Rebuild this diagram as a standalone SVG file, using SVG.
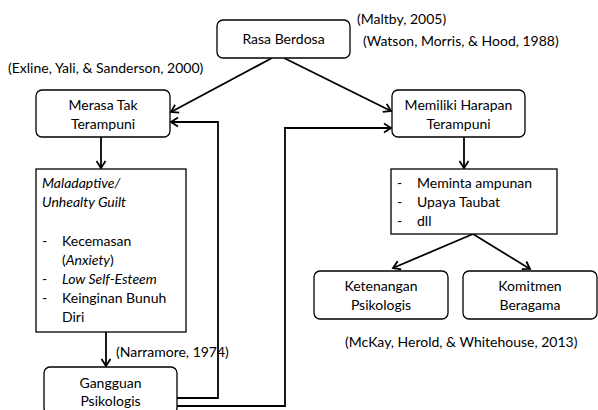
<svg xmlns="http://www.w3.org/2000/svg" width="598" height="410" viewBox="0 0 598 410">
<defs>
<marker id="ah" markerWidth="12" markerHeight="12" refX="9" refY="6" orient="auto" markerUnits="userSpaceOnUse">
<path d="M2,1.5 L9,6 L2,10.5" fill="none" stroke="#000" stroke-width="1.8"/>
</marker>
</defs>
<style>
.box{fill:#fff;stroke:#000;stroke-width:1.3}
.t{font-family:Lato,"Open Sans","Liberation Sans",sans-serif;font-size:14px;fill:#000}
.c{text-anchor:middle}
.i{font-style:italic}
.ln{fill:none;stroke:#000;stroke-width:1.8;marker-end:url(#ah)}
</style>
<rect width="598" height="410" fill="#fff"/>
<g id="connectors">
<line class="ln" x1="272" y1="58" x2="171" y2="112"/>
<line class="ln" x1="284" y1="58" x2="391" y2="111"/>
<line class="ln" x1="101" y1="137" x2="101" y2="168"/>
<line class="ln" x1="106" y1="332" x2="106" y2="366"/>
<polyline class="ln" points="177,398 218,398 218,122 171,122"/>
<polyline class="ln" points="177,406 285,406 285,128 391,128"/>
<line class="ln" x1="464" y1="137" x2="464" y2="168"/>
<line class="ln" x1="473" y1="234" x2="393" y2="268"/>
<line class="ln" x1="473" y1="234" x2="530" y2="269"/>
</g>
<g id="rasa">
<rect class="box" x="217" y="20" width="133" height="38" rx="6"/>
<text class="t c" x="283.5" y="44">Rasa Berdosa</text>
</g>
<g id="merasa">
<rect class="box" x="36" y="90" width="134" height="47" rx="6"/>
<text class="t c" x="103" y="110">Merasa Tak</text>
<text class="t c" x="103" y="129">Terampuni</text>
</g>
<g id="memiliki">
<rect class="box" x="392" y="90" width="133" height="47" rx="6"/>
<text class="t c" x="458.5" y="110">Memiliki Harapan</text>
<text class="t c" x="458.5" y="129">Terampuni</text>
</g>
<g id="maladaptive">
<rect class="box" x="36" y="169" width="150" height="163"/>
<text class="t i" x="42" y="188">Maladaptive/</text>
<text class="t i" x="42" y="207">Unhealty Guilt</text>
<text class="t" x="42" y="246">-</text>
<text class="t" x="62" y="246">Kecemasan</text>
<text class="t" x="62" y="265">(<tspan class="i">Anxiety</tspan>)</text>
<text class="t" x="42" y="284">-</text>
<text class="t i" x="62" y="284">Low Self-Esteem</text>
<text class="t" x="42" y="303">-</text>
<text class="t" x="62" y="303">Keinginan Bunuh</text>
<text class="t" x="62" y="322">Diri</text>
</g>
<g id="gangguan">
<rect class="box" x="44" y="367" width="133" height="47" rx="6"/>
<text class="t c" x="110.5" y="388">Gangguan</text>
<text class="t c" x="110.5" y="406">Psikologis</text>
</g>
<g id="meminta">
<rect class="box" x="391" y="169" width="166" height="65"/>
<text class="t" x="397" y="188">-</text>
<text class="t" x="417" y="188">Meminta ampunan</text>
<text class="t" x="397" y="207">-</text>
<text class="t" x="417" y="207">Upaya Taubat</text>
<text class="t" x="397" y="226">-</text>
<text class="t" x="417" y="226">dll</text>
</g>
<g id="ketenangan">
<rect class="box" x="314" y="271" width="134" height="48" rx="6"/>
<text class="t c" x="381" y="291">Ketenangan</text>
<text class="t c" x="381" y="310">Psikologis</text>
</g>
<g id="komitmen">
<rect class="box" x="463" y="271" width="134" height="48" rx="6"/>
<text class="t c" x="530" y="291">Komitmen</text>
<text class="t c" x="530" y="310">Beragama</text>
</g>
<g id="labels">
<text class="t" x="357" y="24">(Maltby, 2005)</text>
<text class="t" x="363" y="46">(Watson, Morris, &amp; Hood, 1988)</text>
<text class="t" x="8" y="73">(Exline, Yali, &amp; Sanderson, 2000)</text>
<text class="t" x="116" y="357">(Narramore, 1974)</text>
<text class="t" x="345" y="347">(McKay, Herold, &amp; Whitehouse, 2013)</text>
</g>
</svg>
